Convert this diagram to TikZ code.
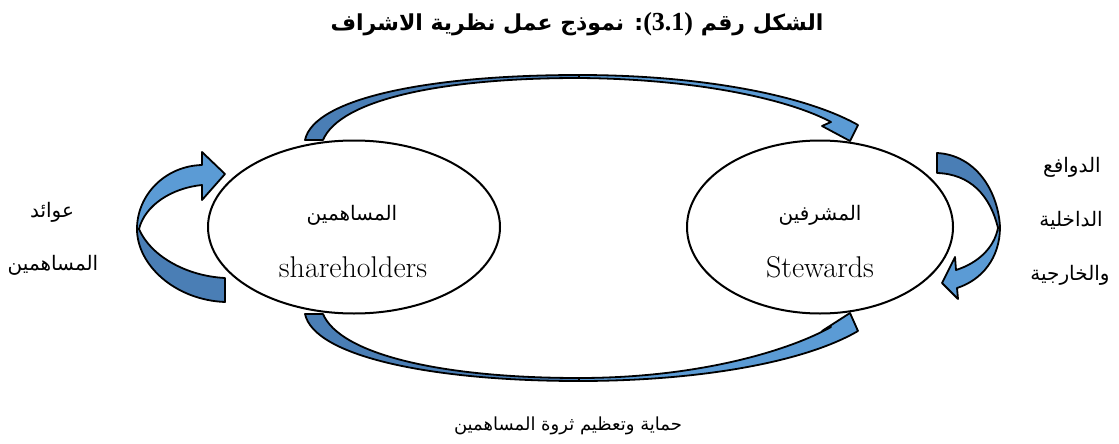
\documentclass[tikz,border=0pt]{standalone}
\usepackage{fontspec}
\usetikzlibrary{shapes.geometric}
\TeXXeTstate=1
\newfontfamily\arabicfont[Script=Arabic]{DejaVu Sans}
\newfontfamily\numfont{Liberation Serif}
\definecolor{arrowlight}{HTML}{5B9BD5}
\definecolor{arrowdark}{RGB}{74,126,181}
\begin{document}
\begin{tikzpicture}[x=1pt,y=-1pt,
  bubble/.style={draw, fill=white, line width=2pt, ellipse, inner sep=0pt},
  bandlight/.style={fill=arrowlight, draw=black, line width=1.8pt, line join=round},
  banddark/.style={fill=arrowdark, draw=black, line width=1.8pt, line join=round},
  artxt/.style={font=\arabicfont\fontsize{20}{24}\selectfont, inner sep=0pt, anchor=base},
  entxt/.style={font=\fontsize{30}{34}\selectfont, inner sep=0pt, anchor=base},
  titletxt/.style={font=\arabicfont\bfseries\fontsize{22}{26}\selectfont, inner sep=0pt, anchor=base}]
\useasboundingbox (0,0) rectangle (1119,444);

% caption
\node[titletxt] (title) at (577,31)
  {\beginR الشكل رقم \beginL{\numfont\bfseries\fontsize{26}{28}\selectfont(3.1)}\endL{}: نموذج عمل نظرية الاشراف\endR};

% the two parties
\node[bubble, minimum width=292pt, minimum height=173pt] (holders) at (354,227) {};
\node[bubble, minimum width=266pt, minimum height=173pt] (stewards) at (820,227) {};
\node[artxt] (holdersAr) at (352,220) {\beginR المساهمين\endR};
\node[entxt] (holdersEn) at (353,277) {shareholders};
\node[artxt] (stewardsAr) at (820,220) {\beginR المشرفين\endR};
\node[entxt] (stewardsEn) at (820,277) {Stewards};

% top band: shareholders -> stewards
\path[banddark] (305,140) .. controls (314,98) and (430,75) .. (579,75)
  -- (579,78) .. controls (440,78) and (340,100) .. (323,140) -- cycle;
\path[bandlight] (579,75) .. controls (700,75) and (805,95) .. (858,125)
  -- (850,141) -- (822,126) -- (831,122)
  .. controls (790,100) and (700,79) .. (579,78) -- cycle;

% bottom band: shareholders -> stewards
\path[banddark] (305,314) .. controls (314,356) and (430,381) .. (579,381)
  -- (579,378) .. controls (440,378) and (340,354) .. (323,314) -- cycle;
\path[bandlight] (579,381) .. controls (700,381) and (805,362) .. (858,331)
  -- (850,313) -- (822,331) -- (831,327)
  .. controls (790,350) and (700,378) .. (579,378) -- cycle;

% loop on the left
\path[banddark] (225,278) .. controls (185,276) and (150,255) .. (139,229)
  -- (137,229) .. controls (137,265) and (175,300) .. (225,302) -- cycle;
\path[bandlight] (137,229) .. controls (137,195) and (165,166) .. (202,165)
  -- (202,152) -- (225,174) -- (202,200) -- (202,185)
  .. controls (172,188) and (145,205) .. (139,229) -- cycle;

% loop on the right
\path[banddark] (937,153) .. controls (975,155) and (998,190) .. (1000,227)
  -- (998,228) .. controls (990,195) and (970,174) .. (937,173) -- cycle;
\path[bandlight] (1000,227) .. controls (1000,258) and (982,280) .. (957,288)
  -- (958,299) -- (942,283) -- (955,257) -- (956,270)
  .. controls (978,263) and (994,248) .. (998,228) -- cycle;

% side and bottom labels
\node[artxt] (gain1) at (52,217) {\beginR عوائد\endR};
\node[artxt] (gain2) at (53,270) {\beginR المساهمين\endR};
\node[artxt] (motive1) at (1072,172) {\beginR الدوافع\endR};
\node[artxt] (motive2) at (1071,226) {\beginR الداخلية\endR};
\node[artxt] (motive3) at (1070,280) {\beginR والخارجية\endR};
\node[artxt, font=\arabicfont\fontsize{18}{22}\selectfont] (wealth) at (568,430) {\beginR حماية وتعظيم ثروة المساهمين\endR};
\end{tikzpicture}
\end{document}
